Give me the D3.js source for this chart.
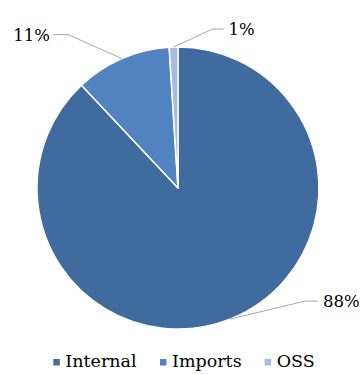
<!DOCTYPE html>
<html>
<head>
<meta charset="utf-8">
<script src="https://cdn.jsdelivr.net/npm/d3@7"></script>
<style>
  html, body { margin: 0; padding: 0; background: #fff; }
  svg { display: block; }
  text { font-family: "DejaVu Serif", serif; fill: #000; }
</style>
</head>
<body>
<svg id="chart" width="360" height="374"></svg>
<script>
// Share of components by source
const categories = ["Internal", "Imports", "OSS"];
const shares = [88, 11, 1];
const valueLabels = ["88%", "11%", "1%"];
const colors = ["#406B9E", "#5083BF", "#A9BCDD"];

const width = 360, height = 374;
const cx = 178, cy = 188, radius = 141;

const svg = d3.select("#chart");
const g = svg.append("g").attr("transform", `translate(${cx},${cy})`);

const pie = d3.pie().sort(null).value(d => d.v).startAngle(0).endAngle(2 * Math.PI);
const arcs = pie(categories.map((c, i) => ({ c, v: shares[i], i })));
const arc = d3.arc().innerRadius(0).outerRadius(radius);

g.selectAll("path.slice")
  .data(arcs)
  .join("path")
  .attr("class", "slice")
  .attr("d", arc)
  .attr("fill", d => colors[d.data.i])
  .attr("stroke", "#fff")
  .attr("stroke-width", 1.5)
  .attr("stroke-linejoin", "round");

// Leader-line elbow offsets (relative to the slice edge) and label side
const labelLayout = [
  { elbow: [75, -18], run: 13, anchor: "start" },   // Internal
  { elbow: [-54, -24], run: -15, anchor: "end" },   // Imports
  { elbow: [39, -18], run: 11, anchor: "start" }    // OSS
];

const edge = d => {
  const a = (d.startAngle + d.endAngle) / 2;
  return [radius * Math.sin(a), -radius * Math.cos(a)];
};

const labels = g.selectAll("g.lbl").data(arcs).join("g").attr("class", "lbl");
labels.append("polyline")
  .attr("fill", "none")
  .attr("stroke", "#A6A6A6")
  .attr("stroke-width", 1)
  .attr("points", d => {
    const L = labelLayout[d.data.i];
    const p0 = edge(d);
    const p1 = [p0[0] + L.elbow[0], p0[1] + L.elbow[1]];
    const p2 = [p1[0] + L.run, p1[1]];
    return [p0, p1, p2].map(p => p.join(",")).join(" ");
  });
labels.append("text")
  .attr("font-size", 16.5)
  .attr("text-anchor", d => labelLayout[d.data.i].anchor)
  .attr("x", d => {
    const L = labelLayout[d.data.i];
    const p0 = edge(d);
    return p0[0] + L.elbow[0] + L.run + (L.anchor === "start" ? 5 : -3);
  })
  .attr("y", d => {
    const L = labelLayout[d.data.i];
    return edge(d)[1] + L.elbow[1] + 6;
  })
  .text(d => valueLabels[d.data.i]);

// Legend, centred below the pie
const legend = svg.append("g").attr("transform", "translate(0,367)");
const items = legend.selectAll("g").data(categories).join("g");
items.append("rect")
  .attr("width", 6.5).attr("height", 6.5)
  .attr("y", -8)
  .attr("fill", (d, i) => colors[i]);
items.append("text")
  .attr("x", 12)
  .attr("font-size", 17.5)
  .text(d => d);

const gap = 23;
let widths = [];
items.each(function () { widths.push(this.getBBox().width); });
const total = d3.sum(widths) + gap * (widths.length - 1);
let x0 = (width - total) / 2 + 4;
items.attr("transform", (d, i) => {
  const t = `translate(${x0},0)`;
  x0 += widths[i] + gap;
  return t;
});
</script>
</body>
</html>
